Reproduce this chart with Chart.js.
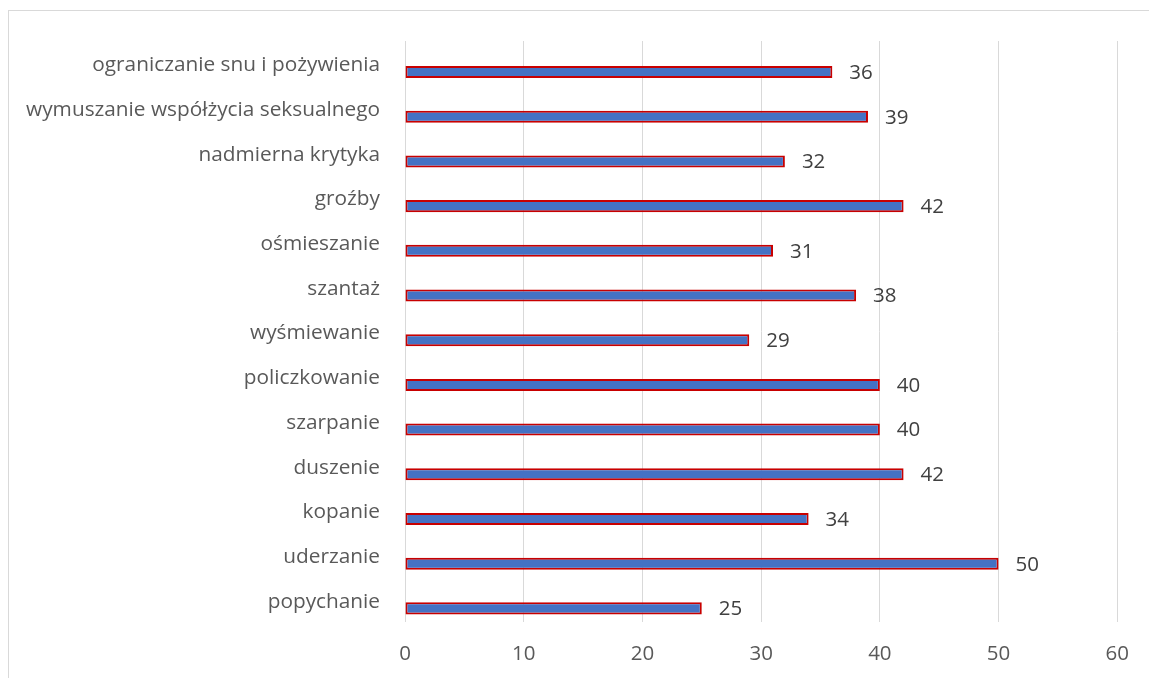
<!DOCTYPE html>
<html>
<head>
<meta charset="utf-8">
<script src="https://cdn.jsdelivr.net/npm/chart.js@4.4.1/dist/chart.umd.min.js"></script>
<style>
  html, body { margin: 0; padding: 0; background: #fff; overflow: hidden; }
  #frame { position: absolute; left: 8px; top: 10px; width: 1300px; height: 800px; border: 1px solid #d9d9d9; box-sizing: border-box; }
  #wrap { position: absolute; left: 0; top: 0; width: 1149px; height: 678px; }
</style>
</head>
<body>
<div id="frame"></div>
<div id="wrap"><canvas id="c" width="1149" height="678"></canvas></div>
<script>
const categories = [
  'ograniczanie snu i pożywienia',
  'wymuszanie współżycia seksualnego',
  'nadmierna krytyka',
  'groźby',
  'ośmieszanie',
  'szantaż',
  'wyśmiewanie',
  'policzkowanie',
  'szarpanie',
  'duszenie',
  'kopanie',
  'uderzanie',
  'popychanie'
];
const values = [36, 39, 32, 42, 31, 38, 29, 40, 40, 42, 34, 50, 25];
const xTicks = [0, 10, 20, 30, 40, 50, 60];

const FONT = '"Open Sans", "DejaVu Sans", sans-serif';
const TEXT = '#595959';

const valueLabels = {
  id: 'valueLabels',
  afterDatasetsDraw(chart) {
    const ctx = chart.ctx;
    const meta = chart.getDatasetMeta(1);
    ctx.save();
    ctx.font = '20.5px ' + FONT;
    ctx.fillStyle = '#404040';
    ctx.textAlign = 'left';
    ctx.textBaseline = 'middle';
    meta.data.forEach((bar, i) => {
      ctx.fillText(String(values[i]), bar.x + 17, bar.y + 1);
    });
    ctx.restore();
  }
};

new Chart(document.getElementById('c'), {
  type: 'bar',
  data: {
    labels: categories,
    datasets: [
      { label: '', data: categories.map(() => null) },
      {
        label: 'Seria 1',
        data: values,
        backgroundColor: '#4472C4',
        borderColor: '#C80000',
        borderWidth: 2,
        borderSkipped: false
      }
    ]
  },
  options: {
    indexAxis: 'y',
    responsive: false,
    animation: false,
    devicePixelRatio: 1,
    categoryPercentage: 0.78,
    barPercentage: 0.69,
    layout: { padding: { left: 0, right: 27, top: 41, bottom: 0 } },
    plugins: { legend: { display: false }, tooltip: { enabled: false } },
    scales: {
      x: {
        min: 0, max: 60,
        afterBuildTicks(scale) { scale.ticks = xTicks.map(v => ({ value: v })); },
        afterFit(scale) { scale.height = 56; },
        grid: { color: '#d9d9d9', lineWidth: 1, drawTicks: false },
        border: { display: false },
        ticks: { color: TEXT, font: { family: FONT, size: 20.5 }, padding: 20 }
      },
      y: {
        afterFit(scale) { scale.width = 405; },
        grid: { display: false, drawTicks: false },
        border: { display: false },
        ticks: { color: TEXT, font: { family: FONT, size: 20.8 }, padding: 25, autoSkip: false, labelOffset: 2 }
      }
    }
  },
  plugins: [valueLabels]
});
</script>
</body>
</html>
